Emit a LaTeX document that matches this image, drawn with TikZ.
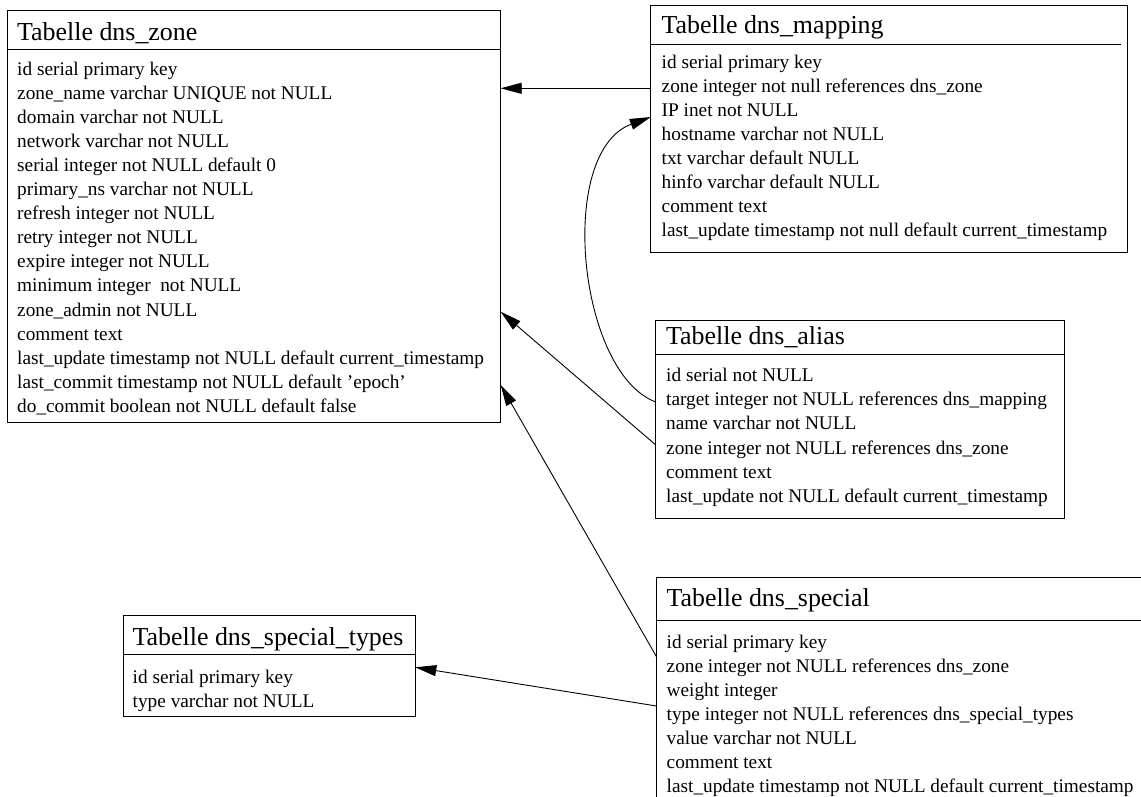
\documentclass[tikz,border=0pt]{standalone}
\usepackage{fontspec}
\setmainfont{Liberation Serif}
\usetikzlibrary{arrows.meta,calc}
\newcommand{\tablines}[1]{\parbox[t]{520pt}{\fontsize{19.3}{24.1}\selectfont #1}}
\tikzset{
  tbl/.style={draw=black, line width=1pt, anchor=north west, inner sep=0pt, outer sep=0pt},
  sepline/.style={draw=black, line width=1pt},
  ttl/.style={anchor=base west, inner sep=0pt, font=\fontsize{25.9}{30}\selectfont},
  bodytext/.style={anchor=base west, inner sep=0pt},
  conn/.style={-{Triangle[length=21pt,width=11pt]}, line width=0.9pt, draw=black}
}
\begin{document}
\begin{tikzpicture}[x=1pt,y=-1pt]
\useasboundingbox (0,0) rectangle (1141,796);
\clip (0,0) rectangle (1141,796);
\fill[white] (0,0) rectangle (1141,796);

% dns_zone
\node[tbl, minimum width=493.4pt, minimum height=411.3pt] (zone) at (7.3,10.7) {};
\draw[sepline] ($(zone.north west)+(0,38.6)$) -- ($(zone.north east)+(0,38.6)$);
\node[ttl] (zoneT) at (17,40) {Tabelle dns\_zone};
\node[bodytext] (zoneB) at (17,75) {\tablines{id serial primary key\\
zone\_name varchar UNIQUE not NULL\\
domain varchar not NULL\\
network varchar not NULL\\
serial integer not NULL default 0\\
primary\_ns varchar not NULL\\
refresh integer not NULL\\
retry integer not NULL\\
expire integer not NULL\\
minimum integer~ not NULL\\
zone\_admin not NULL\\
comment text\\
last\_update timestamp not NULL default current\_timestamp\\
last\_commit timestamp not NULL default 'epoch'\\
do\_commit boolean not NULL default false}};

% dns_mapping
\node[tbl, minimum width=476.7pt, minimum height=246.6pt] (mapping) at (650.8,5.7) {};
\draw[sepline] ($(mapping.north west)+(0,38.3)$) -- ($(mapping.north east)+(-6.5,38.3)$);
\node[ttl] (mappingT) at (661.5,33) {Tabelle dns\_mapping};
\node[bodytext] (mappingB) at (661.5,68) {\tablines{id serial primary key\\
zone integer not null references dns\_zone\\
IP inet not NULL\\
hostname varchar not NULL\\
txt varchar default NULL\\
hinfo varchar default NULL\\
comment text\\
last\_update timestamp not null default current\_timestamp}};

% dns_alias
\node[tbl, minimum width=408.2pt, minimum height=197.3pt] (alias) at (655.8,320.7) {};
\draw[sepline] ($(alias.north west)+(0,33.3)$) -- ($(alias.north east)+(0,33.3)$);
\node[ttl] (aliasT) at (666,344) {Tabelle dns\_alias};
\node[bodytext] (aliasB) at (666,381.7) {\tablines{id serial not NULL\\
target integer not NULL references dns\_mapping\\
name varchar not NULL\\
zone integer not NULL references dns\_zone\\
comment text\\
last\_update not NULL default current\_timestamp}};

% dns_special_types
\node[tbl, minimum width=292pt, minimum height=101pt] (types) at (123.3,615.7) {};
\draw[sepline] ($(types.north west)+(0,38.6)$) -- ($(types.north east)+(0,38.6)$);
\node[ttl] (typesT) at (132.5,645) {Tabelle dns\_special\_types};
\node[bodytext] (typesB) at (132.5,683.3) {\tablines{id serial primary key\\
type varchar not NULL}};

% dns_special
\node[tbl, minimum width=520pt, minimum height=250pt] (special) at (656.5,577) {};
\draw[sepline] ($(special.north west)+(0,43)$) -- ($(special.north east)+(0,43)$);
\node[ttl] (specialT) at (666.5,606.7) {Tabelle dns\_special};
\node[bodytext] (specialB) at (666.5,648) {\tablines{id serial primary key\\
zone integer not NULL references dns\_zone\\
weight integer\\
type integer not NULL references dns\_special\_types\\
value varchar not NULL\\
comment text\\
last\_update timestamp not NULL default current\_timestamp}};

% connectors
\draw[conn] ($(mapping.north west)+(0,82.6)$) -- ($(zone.north east)+(0,77.6)$);
\draw[conn] ($(alias.north west)+(0,81.3)$) .. controls (578,373) and (556,152) .. ($(mapping.north west)+(0,111.3)$);
\draw[conn] ($(alias.north west)+(0,124.3)$) -- ($(zone.north east)+(0,301)$);
\draw[conn] ($(special.north west)+(0,79.7)$) -- ($(zone.north east)+(0,374.3)$);
\draw[conn] ($(special.north west)+(0,129)$) -- ($(types.north east)+(0,51.6)$);
\end{tikzpicture}
\end{document}
